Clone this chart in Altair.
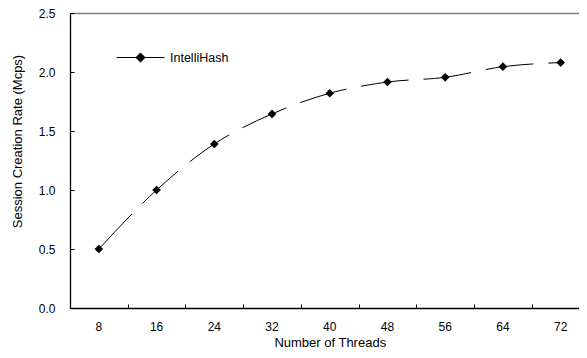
import altair as alt
import pandas as pd

threads = ["8", "16", "24", "32", "40", "48", "56", "64", "72"]
rates = [0.50, 1.00, 1.39, 1.645, 1.82, 1.915, 1.955, 2.045, 2.08]
series = ["IntelliHash"] * len(threads)
y_ticks = [0.0, 0.5, 1.0, 1.5, 2.0, 2.5]

df = pd.DataFrame({"threads": threads, "rate": rates, "series": series})

FONT = "Liberation Sans"
W, H = 509, 295

xscale = alt.Scale(domain=threads, range=[0, 519.5], paddingInner=0, paddingOuter=0)
yscale = alt.Scale(domain=[0, 2.5], nice=False, zero=True)

main_x_axis = alt.Axis(
    orient="bottom", ticks=False, tickSize=0, labelPadding=22, labelBaseline="alphabetic",
    labelFontSize=12, labelFont=FONT, labelColor="black", labelAngle=0,
    domainColor="black", domainWidth=1.3, grid=False,
    title="Number of Threads", titleFont=FONT, titleFontSize=13, titleFontWeight="normal",
    titleColor="black", titleBaseline="alphabetic", titleY=38,
)
main_y_axis = alt.Axis(
    orient="left", values=y_ticks, format=".1f", ticks=False, tickSize=0, labelPadding=15,
    labelFontSize=12, labelFont=FONT, labelColor="black", labelBaseline="middle",
    domainColor="black", domainWidth=1.3, grid=False,
    title="Session Creation Rate (Mcps)", titleFont=FONT, titleFontSize=13,
    titleFontWeight="normal", titleColor="black", titleAngle=270,
    titleBaseline="middle", titleAlign="center", titleX=-53, titleY=128,
)

base = alt.Chart(df)

line = base.mark_line(
    color="black", strokeWidth=1, strokeDash=[48, 15], interpolate="monotone"
).encode(
    x=alt.X("threads:O", scale=xscale, sort=threads, axis=main_x_axis),
    y=alt.Y("rate:Q", scale=yscale, axis=main_y_axis),
)

legend_path = "M-1,0L1,0M-0.19,0L0,-0.19L0.19,0L0,0.19Z"
points = base.mark_point(shape="diamond", filled=True, size=75, opacity=1).encode(
    x=alt.X("threads:O", scale=xscale, sort=threads, axis=None),
    y=alt.Y("rate:Q", scale=yscale, axis=None),
    color=alt.Color(
        "series:N",
        scale=alt.Scale(range=["black"]),
        legend=alt.Legend(
            title=None, orient="none", legendX=46, legendY=20,
            symbolType=legend_path, symbolSize=2304, symbolStrokeWidth=1,
            symbolFillColor="black", symbolStrokeColor="black",
            labelFont=FONT, labelFontSize=12.5, labelColor="black", labelOffset=5,
        ),
    ),
)

inner_ticks = base.mark_point(opacity=0).encode(
    x=alt.X("threads:O", scale=xscale, sort=threads, axis=alt.Axis(
        orient="top", offset=-H, labels=False, domain=False, grid=False, title=None,
        ticks=True, tickSize=4, tickColor="black", tickBand="extent", tickWidth=1)),
    y=alt.Y("rate:Q", scale=yscale, axis=alt.Axis(
        orient="right", offset=-W, values=y_ticks, labels=False, domain=False, grid=False,
        title=None, ticks=True, tickSize=4, tickColor="black", tickWidth=1)),
)

top_border = base.mark_point(opacity=0).encode(
    x=alt.X("threads:O", scale=xscale, sort=threads, axis=alt.Axis(
        orient="top", labels=False, ticks=False, grid=False, title=None,
        domain=True, domainColor="#7f7f7f", domainWidth=1.3)),
    y=alt.Y("rate:Q", scale=yscale, axis=None),
)

chart = alt.layer(line, points, inner_ticks, top_border).resolve_axis(
    x="independent", y="independent"
).properties(
    width=W, height=H,
    autosize=alt.AutoSizeParams(type="none"),
    padding={"left": 62, "top": 5, "right": 0, "bottom": 42},
    background="white",
).configure_view(strokeWidth=0)

chart.save("out.html", embed_options={"renderer": "svg", "actions": False})
